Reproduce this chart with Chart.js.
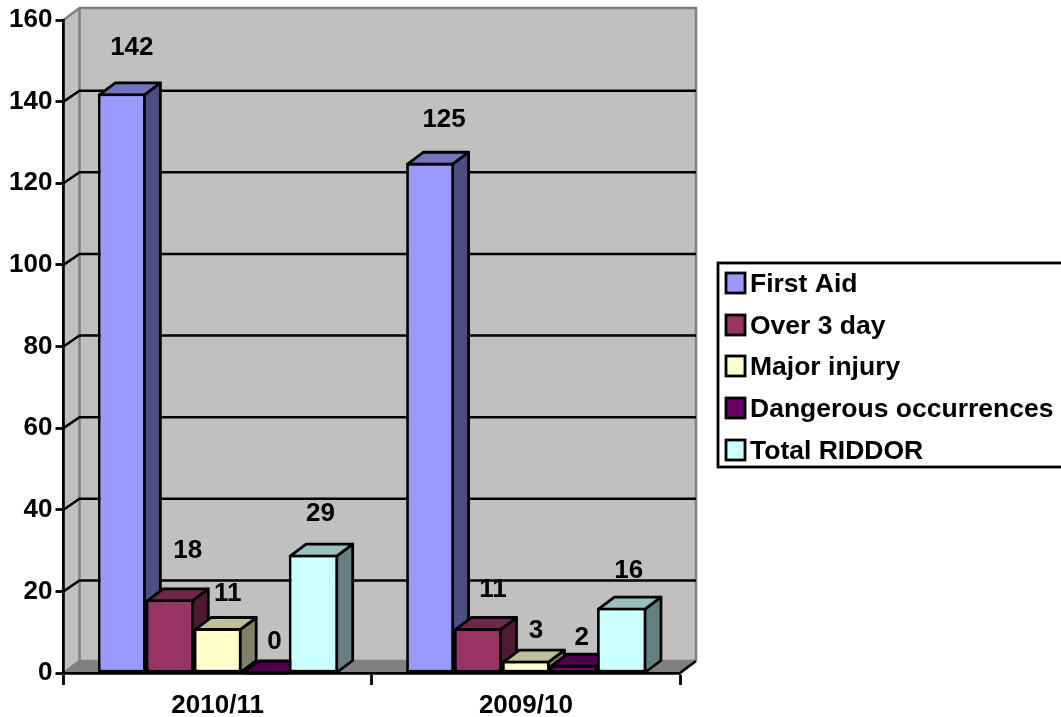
<!DOCTYPE html>
<html>
<head>
<meta charset="utf-8">
<style>html,body{margin:0;padding:0;background:#fff}canvas{display:block}</style>
<script src="https://cdn.jsdelivr.net/npm/chart.js@4"></script>
</head>
<body>
<canvas id="c" width="1061" height="717"></canvas>
<script>
const categories = ['2010/11', '2009/10'];
const seriesNames = ['First Aid', 'Over 3 day', 'Major injury', 'Dangerous occurrences', 'Total RIDDOR'];
const firstAid = [142, 125];
const over3Day = [18, 11];
const majorInjury = [11, 3];
const dangerous = [0, 2];
const totalRiddor = [29, 16];
const seriesValues = [firstAid, over3Day, majorInjury, dangerous, totalRiddor];

const frontColors = ['#9999FF', '#993366', '#FFFFCC', '#660066', '#CCFFFF'];
const topColors   = ['#7373BF', '#73264D', '#BFBF99', '#4D004D', '#99BFBF'];
const sideColors  = ['#4D4D80', '#4D1933', '#808066', '#330033', '#668080'];

// Per-label placement relative to each bar's front face, as in the original.
const labelShiftX = [[10, 14], [18, 15], [10, 10], [9, 8], [7, 7]];
const labelShiftY = [[46, 43], [49, 38], [34, 30], [31, 27], [41, 37]];

const DX = 16, DY = 12, GRID_DY = 11;
const FAMILY = '"Liberation Sans", Arial, sans-serif';
const FONT = 'bold 26px ' + FAMILY;
const LEGEND_FONT = 'bold 26.5px ' + FAMILY;
const LINE = 2.8;

const box3d = {
  id: 'box3d',
  beforeDraw(chart) {
    const c = chart.ctx, a = chart.chartArea, y = chart.scales.y;
    c.save();
    // back wall, side wall, floor
    c.fillStyle = '#C0C0C0';
    c.fillRect(a.left + DX, a.top - DY, a.right - a.left, a.bottom - a.top);
    c.beginPath();
    c.moveTo(a.left, a.top); c.lineTo(a.left + DX, a.top - DY);
    c.lineTo(a.left + DX, a.bottom - DY); c.lineTo(a.left, a.bottom); c.closePath();
    c.fill();
    c.fillStyle = '#808080';
    c.beginPath();
    c.moveTo(a.left, a.bottom); c.lineTo(a.left + DX, a.bottom - DY);
    c.lineTo(a.right + DX, a.bottom - DY); c.lineTo(a.right, a.bottom); c.closePath();
    c.fill();
    // wall edges
    c.strokeStyle = '#808080'; c.lineWidth = 2.5;
    c.beginPath();
    c.moveTo(a.left, a.top); c.lineTo(a.left + DX, a.top - DY);
    c.lineTo(a.right + DX, a.top - DY); c.lineTo(a.right + DX, a.bottom - DY);
    c.moveTo(a.left + DX, a.top - DY); c.lineTo(a.left + DX, a.bottom - DY);
    c.lineTo(a.right + DX, a.bottom - DY);
    c.moveTo(a.left + DX, a.bottom - DY); c.lineTo(a.left, a.bottom);
    c.stroke();
    // gridlines
    c.strokeStyle = '#000'; c.lineWidth = 2.5;
    c.beginPath();
    y.ticks.forEach(t => {
      if (t.value === 0 || t.value === y.max) return;
      const p = y.getPixelForValue(t.value);
      c.moveTo(a.left, p); c.lineTo(a.left + DX, p - GRID_DY); c.lineTo(a.right + DX, p - GRID_DY);
    });
    c.stroke();
    // floor front-right edge
    c.lineWidth = LINE;
    c.beginPath();
    c.moveTo(a.right, a.bottom); c.lineTo(a.right + DX, a.bottom - DY);
    c.stroke();
    c.restore();
  },
  beforeDatasetsDraw(chart) {
    const c = chart.ctx;
    chart.data.datasets.forEach((ds, i) => {
      const meta = chart.getDatasetMeta(i);
      meta.data.forEach(el => {
        const p = el.getProps(['x', 'y', 'base', 'width'], true);
        const l = p.x - p.width / 2 + LINE / 2, r = p.x + p.width / 2 - LINE / 2;
        const t = p.y + (p.y < p.base ? LINE / 2 : 0), b = p.base;
        c.save();
        c.strokeStyle = '#000'; c.lineWidth = LINE; c.lineJoin = 'round';
        c.fillStyle = sideColors[i];
        c.beginPath();
        c.moveTo(r, t); c.lineTo(r + DX, t - DY); c.lineTo(r + DX, b - DY); c.lineTo(r, b); c.closePath();
        c.fill(); c.stroke();
        c.fillStyle = topColors[i];
        c.beginPath();
        c.moveTo(l, t); c.lineTo(l + DX, t - DY); c.lineTo(r + DX, t - DY); c.lineTo(r, t); c.closePath();
        c.fill(); c.stroke();
        c.restore();
      });
      meta.controller.draw();
    });
    return false; // datasets already painted left to right
  },
  afterDraw(chart) {
    const c = chart.ctx;
    c.save();
    c.font = FONT; c.fillStyle = '#000'; c.textAlign = 'center'; c.textBaseline = 'middle';
    chart.data.datasets.forEach((ds, i) => {
      chart.getDatasetMeta(i).data.forEach((el, j) => {
        const p = el.getProps(['x', 'y'], true);
        c.fillText(String(ds.data[j]), p.x + labelShiftX[i][j], p.y - labelShiftY[i][j]);
      });
    });
    // legend
    c.strokeStyle = '#000'; c.lineWidth = LINE;
    c.strokeRect(718, 263, 346, 204);
    c.textAlign = 'left';
    c.font = LEGEND_FONT;
    const rows = [283, 325, 366, 408, 450];
    seriesNames.forEach((n, i) => {
      c.fillStyle = frontColors[i];
      c.fillRect(726, rows[i] - 10, 19, 20);
      c.strokeRect(726, rows[i] - 10, 19, 20);
      c.fillStyle = '#000';
      c.fillText(n, 750, rows[i] + 2);
    });
    c.restore();
  }
};

new Chart(document.getElementById('c'), {
  type: 'bar',
  data: {
    labels: categories,
    datasets: seriesNames.map((n, i) => ({
      label: n,
      data: seriesValues[i],
      backgroundColor: frontColors[i],
      borderColor: '#000',
      borderWidth: LINE,
      borderSkipped: false,
      categoryPercentage: 0.777,
      barPercentage: i === 4 ? 1.03 : 1
    }))
  },
  options: {
    responsive: false,
    animation: false,
    devicePixelRatio: 1,
    layout: { autoPadding: false, padding: { top: 20, right: 381, left: 0, bottom: 0 } },
    plugins: { legend: { display: false }, title: { display: false }, tooltip: { enabled: false } },
    scales: {
      x: {
        z: 1,
        afterFit(s) { s.height = 44; },
        grid: { drawOnChartArea: false, tickLength: 12, tickColor: '#000', tickWidth: LINE, offset: true },
        border: { color: '#000', width: LINE },
        ticks: { color: '#000', font: { family: FAMILY, size: 26, weight: 'bold' }, padding: 5, maxRotation: 0 }
      },
      y: {
        min: 0, max: 160,
        afterFit(s) { s.width = 63.5; },
        grid: { drawOnChartArea: false, tickLength: 8, tickColor: '#000', tickWidth: LINE },
        border: { color: '#000', width: LINE },
        ticks: { stepSize: 20, color: '#000', font: { family: FAMILY, size: 26, weight: 'bold' }, padding: 3 }
      }
    }
  },
  plugins: [box3d]
});
</script>
</body>
</html>
